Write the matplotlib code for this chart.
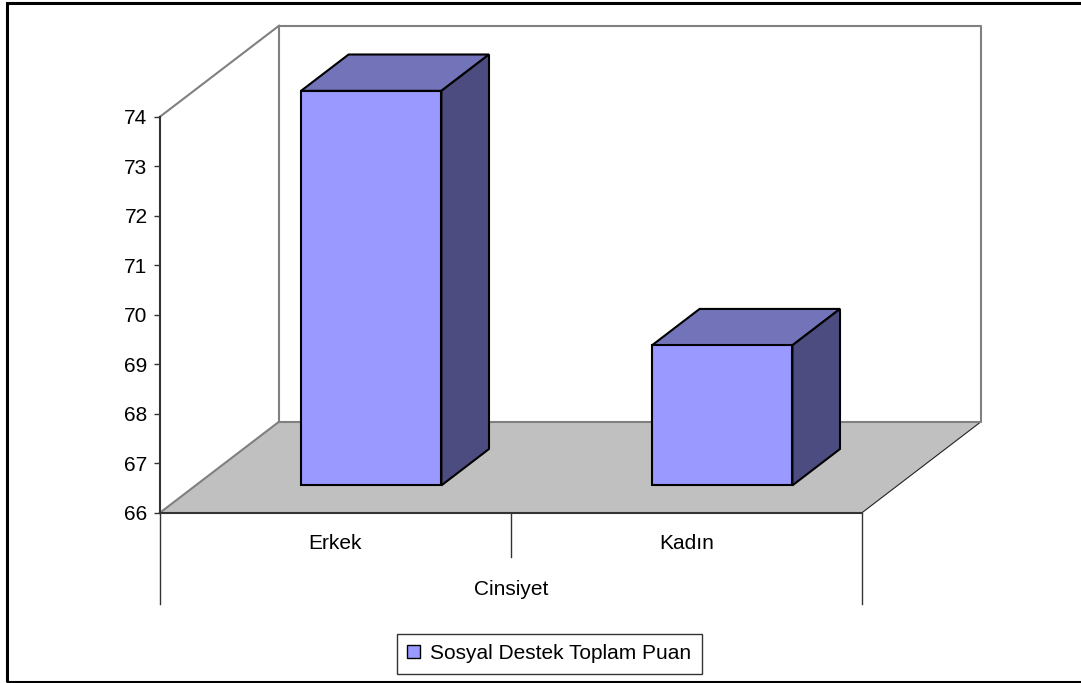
import matplotlib.pyplot as plt
from matplotlib.patches import Polygon, Patch, Rectangle

plt.rcParams['font.family'] = ['Liberation Sans', 'DejaVu Sans']

# data
categories = ['Erkek', 'Kadın']
values = [73.97, 68.83]
series_name = 'Sosyal Destek Toplam Puan'
y_ticks = [66, 67, 68, 69, 70, 71, 72, 73, 74]
x_title = 'Cinsiyet'

# fake 3d look: oblique offset of the full depth, in data units
DEPTH_X = 0.339
DEPTH_Y = 1.838
d0, d1 = 0.3, 0.7        # bar depth range (fraction of floor depth)
bar_w = 0.4
ymin, ymax = 66, 74
fs = 15

front_col = '#9999FF'
top_col = '#7373B9'
side_col = '#4C4C80'
wall_col = '#808080'


def proj(x, y, d):
    return (x + d * DEPTH_X, y + d * DEPTH_Y)


fig = plt.figure(figsize=(10.81, 6.83), dpi=100)
ax = fig.add_axes([160 / 1081, 1 - 512.7 / 683, 702 / 1081, 396 / 683])
ax.set_xlim(0, len(categories))
ax.set_ylim(ymin, ymax)
ax.patch.set_visible(False)

# floor
floor = Polygon([proj(0, ymin, 0), proj(2, ymin, 0), proj(2, ymin, 1), proj(0, ymin, 1)],
                closed=True, facecolor='#C0C0C0', edgecolor='none', clip_on=False, zorder=1)
ax.add_patch(floor)
ax.plot(*zip(proj(2, ymin, 0), proj(2, ymin, 1)), color='#222222', lw=0.8, clip_on=False, zorder=2)
ax.plot(*zip(proj(0, ymin, 0), proj(0, ymin, 1)), color=wall_col, lw=1.5, clip_on=False, zorder=2)

# back wall and side wall outline
wall = [proj(0, ymin, 1), proj(0, ymax, 1), proj(2, ymax, 1), proj(2, ymin, 1), proj(0, ymin, 1)]
ax.plot(*zip(*wall), color=wall_col, lw=1.5, clip_on=False, zorder=2)
ax.plot(*zip(proj(0, ymax, 0), proj(0, ymax, 1)), color=wall_col, lw=1.5, clip_on=False, zorder=2)

# bars: front faces through ax.bar, top and side as polygons
lefts = [i + (1 - bar_w) / 2 for i in range(len(categories))]
ax.bar([proj(x, 0, d0)[0] for x in lefts], [v - ymin for v in values],
       bottom=ymin + d0 * DEPTH_Y, width=bar_w, align='edge',
       color=front_col, edgecolor='black', linewidth=1.5, zorder=5, clip_on=False)
for x, v in zip(lefts, values):
    top = [proj(x, v, d0), proj(x + bar_w, v, d0), proj(x + bar_w, v, d1), proj(x, v, d1)]
    side = [proj(x + bar_w, ymin, d0), proj(x + bar_w, v, d0), proj(x + bar_w, v, d1), proj(x + bar_w, ymin, d1)]
    ax.add_patch(Polygon(top, closed=True, facecolor=top_col, edgecolor='black', lw=1.5,
                         joinstyle='miter', clip_on=False, zorder=4))
    ax.add_patch(Polygon(side, closed=True, facecolor=side_col, edgecolor='black', lw=1.5,
                         joinstyle='miter', clip_on=False, zorder=4))

# axes
for s in ['top', 'right']:
    ax.spines[s].set_visible(False)
ax.spines['left'].set_color('#333333')
ax.spines['left'].set_linewidth(1.5)
ax.spines['bottom'].set_color('#333333')
ax.spines['bottom'].set_linewidth(1.5)
ax.spines['bottom'].set_zorder(3)
ax.set_yticks(y_ticks)
ax.set_yticklabels([str(t) for t in y_ticks], fontsize=fs)
ax.tick_params(axis='y', length=4, width=1, color='#333333', pad=5)

# category axis box below the floor
ax.plot([0, 0], [ymin, 64.16], color='#333333', lw=1, clip_on=False)
ax.plot([2, 2], [ymin, 64.16], color='#333333', lw=1, clip_on=False)
ax.plot([1, 1], [ymin, 65.11], color='#333333', lw=1, clip_on=False)
ax.set_xticks([0.5, 1.5])
ax.set_xticklabels(categories, fontsize=fs)
ax.tick_params(axis='x', length=0, pad=15)
ax.set_xlabel(x_title, fontsize=fs, labelpad=20)

fig.legend(handles=[Patch(facecolor=front_col, edgecolor='black', linewidth=1)],
           labels=[series_name], loc='center', bbox_to_anchor=(549.5 / 1081, 1 - 653.7 / 683),
           fontsize=fs, frameon=True, fancybox=False, edgecolor='black',
           handlelength=0.6, handleheight=0.6, handletextpad=0.5, borderpad=0.5,
           borderaxespad=0)

# outer chart border (right side runs off the image)
fig.add_artist(Rectangle((7 / 1081, 1.5 / 683), 1.2, 1 - 4.5 / 683, transform=fig.transFigure,
                         fill=False, edgecolor='black', lw=2.2))

fig.savefig('out.png', dpi=100)
